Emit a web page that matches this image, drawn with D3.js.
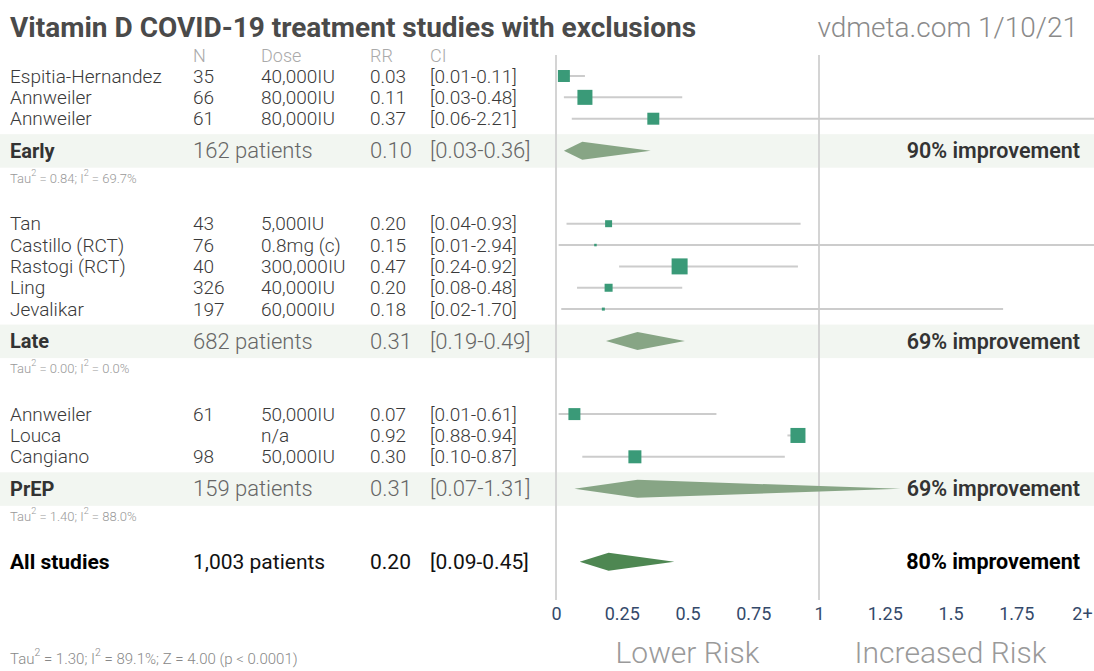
<!DOCTYPE html>
<html>
<head>
<meta charset="utf-8">
<script src="https://cdn.jsdelivr.net/npm/d3@7"></script>
<style>
  html, body { margin: 0; padding: 0; background: #fff; }
  svg { display: block; }
  text { font-family: Roboto, "Noto Sans", sans-serif; }
</style>
</head>
<body>
<svg id="chart" width="1094" height="671"></svg>
<script>
// ---- study data --------------------------------------------------------
const studyNames  = ["Espitia-Hernandez", "Annweiler", "Annweiler",
                     "Tan", "Castillo (RCT)", "Rastogi (RCT)", "Ling", "Jevalikar",
                     "Annweiler", "Louca", "Cangiano"];
const studyGroup  = ["Early", "Early", "Early",
                     "Late", "Late", "Late", "Late", "Late",
                     "PrEP", "PrEP", "PrEP"];
const studyN      = ["35", "66", "61", "43", "76", "40", "326", "197", "61", "", "98"];
const studyDose   = ["40,000IU", "80,000IU", "80,000IU",
                     "5,000IU", "0.8mg (c)", "300,000IU", "40,000IU", "60,000IU",
                     "50,000IU", "n/a", "50,000IU"];
const studyRR     = [0.03, 0.11, 0.37, 0.20, 0.15, 0.47, 0.20, 0.18, 0.07, 0.92, 0.30];
const studyLo     = [0.01, 0.03, 0.06, 0.04, 0.01, 0.24, 0.08, 0.02, 0.01, 0.88, 0.10];
const studyHi     = [0.11, 0.48, 2.21, 0.93, 2.94, 0.92, 0.48, 1.70, 0.61, 0.94, 0.87];
const studyWeight = [56, 88, 56, 19, 2.4, 100, 25, 3.5, 56, 88, 66];

// ---- pooled results per group -----------------------------------------
const groupNames    = ["Early", "Late", "PrEP"];
const groupPatients = ["162 patients", "682 patients", "159 patients"];
const groupRR       = [0.10, 0.31, 0.31];
const groupLo       = [0.03, 0.19, 0.07];
const groupHi       = [0.36, 0.49, 1.31];
const groupImprove  = ["90% improvement", "69% improvement", "69% improvement"];
const groupTau      = ["0.84", "0.00", "1.40"];
const groupI2       = ["69.7%", "0.0%", "88.0%"];

// ---- all studies --------------------------------------------------------
const allLabel    = "All studies";
const allPatients = "1,003 patients";
const allRR = 0.20, allLo = 0.09, allHi = 0.45;
const allImprove  = "80% improvement";
const allTau = "1.30", allI2 = "89.1%", allZ = "Z = 4.00 (p < 0.0001)";

// ---- axis ---------------------------------------------------------------
const tickValues = [0, 0.25, 0.5, 0.75, 1, 1.25, 1.5, 1.75, 2];
const tickLabels = ["0", "0.25", "0.5", "0.75", "1", "1.25", "1.5", "1.75", "2+"];
const headerLabels = ["N", "Dose", "RR", "CI"];

const fmt2 = d3.format(".2f");
const ciText = (lo, hi) => `[${fmt2(lo)}-${fmt2(hi)}]`;

const W = 1094, H = 671;
const svg = d3.select("#chart");

const x = d3.scaleLinear().domain([0, 2]).range([556, 1082]);
const xc = v => Math.min(x(v), W);           // clip long intervals at the edge
const side = d3.scaleSqrt().domain([0, 100]).range([0, 16]);

// column x positions for the table on the left
const col = { name: 10, n: 193, dose: 261, rr: 370, ci: 430 };

// ---- vertical layout ------------------------------------------------------
const rowStep = 21.35, groupGap = 32, tauGap = 27, afterTau = 46;
const layout = [];   // {type, index, y}
let y = 76;
groupNames.forEach((g, gi) => {
  const idx = studyGroup.map((s, i) => s === g ? i : -1).filter(i => i >= 0);
  idx.forEach((i, k) => { if (k > 0) y += rowStep; layout.push({ type: "study", i, y }); });
  y += groupGap;  layout.push({ type: "group", i: gi, y });
  y += tauGap;    layout.push({ type: "tau", i: gi, y });
  y += afterTau;
});
const allY = y;

// "Tau² = a; I² = b" with real superscripts
function tauText(sel, tau, i2, extra) {
  sel.append("tspan").text("Tau");
  sel.append("tspan").attr("font-size", "0.7em").attr("baseline-shift", "super").text("2");
  sel.append("tspan").text(` = ${tau}; I`);
  sel.append("tspan").attr("font-size", "0.7em").attr("baseline-shift", "super").text("2");
  sel.append("tspan").text(` = ${i2}` + (extra ? `; ${extra}` : ""));
}

// ---- title ----------------------------------------------------------------
svg.append("text").attr("x", 10).attr("y", 37)
  .attr("font-size", 28).attr("font-weight", 700).attr("fill", "#4a4a4a")
  .text("Vitamin D COVID-19 treatment studies with exclusions");
svg.append("text").attr("x", 1078).attr("y", 37).attr("text-anchor", "end")
  .attr("font-size", 28).attr("font-weight", 300).attr("fill", "#8a8a8a")
  .text("vdmeta.com 1/10/21");

// column headers
[col.n, col.dose, col.rr, col.ci].forEach((cx, k) => {
  svg.append("text").attr("x", cx).attr("y", 55).attr("dominant-baseline", "central")
    .attr("font-size", 18).attr("font-weight", 300).attr("fill", "#aaa")
    .text(headerLabels[k]);
});

// ---- group bands (drawn first so everything sits on top) ----------------
const gRows = layout.filter(d => d.type === "group");
svg.append("g").selectAll("rect").data(gRows).join("rect")
  .attr("x", 0).attr("width", W)
  .attr("y", d => d.y - 16.5).attr("height", 33.5)
  .attr("fill", "#f2f6f1");

// reference lines at 0 and 1
svg.append("g").selectAll("line").data([0, 1]).join("line")
  .attr("x1", d => x(d)).attr("x2", d => x(d))
  .attr("y1", 55).attr("y2", 600)
  .attr("stroke", "#d4d4d4").attr("stroke-width", 2);

// ---- individual studies -----------------------------------------------------
const sRows = layout.filter(d => d.type === "study");
const sg = svg.append("g");
sRows.forEach(d => {
  const i = d.i;
  const cells = [[col.name, studyNames[i]], [col.n, studyN[i]], [col.dose, studyDose[i]],
                 [col.rr, fmt2(studyRR[i])], [col.ci, ciText(studyLo[i], studyHi[i])]];
  cells.forEach(([cx, t]) => {
    sg.append("text").attr("x", cx).attr("y", d.y).attr("dominant-baseline", "central")
      .attr("font-size", 19).attr("font-weight", 300).attr("fill", "#3a3a3a").text(t);
  });
  sg.append("line")
    .attr("x1", x(studyLo[i])).attr("x2", xc(studyHi[i]))
    .attr("y1", d.y).attr("y2", d.y)
    .attr("stroke", "#cccccc").attr("stroke-width", 2);
  const s = Math.max(side(studyWeight[i]), 2.5);
  sg.append("rect")
    .attr("x", x(studyRR[i]) - s / 2).attr("y", d.y - s / 2)
    .attr("width", s).attr("height", s)
    .attr("fill", "#3a9a78");
});

// ---- pooled group rows ------------------------------------------------------
const diamond = (rr, lo, hi, cy, h) =>
  `M${x(lo)},${cy} L${x(rr)},${cy - h} L${xc(hi)},${cy} L${x(rr)},${cy + h} Z`;

const gg = svg.append("g");
gRows.forEach(d => {
  const i = d.i, cy = d.y;
  gg.append("text").attr("x", col.name).attr("y", cy).attr("dominant-baseline", "central")
    .attr("font-family", "'Open Sans', 'Noto Sans', sans-serif")
    .attr("font-size", 20).attr("font-weight", 700).attr("fill", "#333").text(groupNames[i]);
  [[col.n, groupPatients[i]], [col.rr, fmt2(groupRR[i])], [col.ci, ciText(groupLo[i], groupHi[i])]]
    .forEach(([cx, t]) => {
      gg.append("text").attr("x", cx).attr("y", cy).attr("dominant-baseline", "central")
        .attr("font-size", 22).attr("font-weight", 300).attr("fill", "#666").text(t);
    });
  gg.append("path").attr("d", diamond(groupRR[i], groupLo[i], groupHi[i], cy, 9))
    .attr("fill", "#87a585");
  gg.append("text").attr("x", 1080).attr("y", cy).attr("dominant-baseline", "central")
    .attr("text-anchor", "end").attr("font-family", "'Open Sans', 'Noto Sans', sans-serif")
    .attr("font-size", 21.5).attr("font-weight", 600).attr("fill", "#333")
    .text(groupImprove[i]);
});

// heterogeneity notes under each group
layout.filter(d => d.type === "tau").forEach(d => {
  svg.append("text").attr("x", col.name).attr("y", d.y).attr("dominant-baseline", "central")
    .attr("font-size", 13).attr("font-weight", 300).attr("fill", "#999")
    .call(tauText, groupTau[d.i], groupI2[d.i]);
});

// ---- all studies --------------------------------------------------------------
const ag = svg.append("g");
ag.append("text").attr("x", col.name).attr("y", allY).attr("dominant-baseline", "central")
  .attr("font-size", 21).attr("font-weight", 700).attr("fill", "#000").text(allLabel);
[[col.n, allPatients], [col.rr, fmt2(allRR)], [col.ci, ciText(allLo, allHi)]]
  .forEach(([cx, t]) => {
    ag.append("text").attr("x", cx).attr("y", allY).attr("dominant-baseline", "central")
      .attr("font-size", 21).attr("font-weight", 400).attr("fill", "#111").text(t);
  });
ag.append("path").attr("d", diamond(allRR, allLo, allHi, allY, 9)).attr("fill", "#4e8752");
ag.append("text").attr("x", 1080).attr("y", allY).attr("dominant-baseline", "central")
  .attr("text-anchor", "end").attr("font-size", 21.5).attr("font-weight", 700)
  .attr("fill", "#000").text(allImprove);

// ---- x axis ---------------------------------------------------------------------
const axis = d3.axisBottom(x).tickValues(tickValues)
  .tickFormat((v, k) => tickLabels[k]).tickSize(0).tickPadding(0);
const ax = svg.append("g").attr("transform", "translate(0,607)").call(axis);
ax.select(".domain").remove();
ax.selectAll("text")
  .attr("font-family", "'Noto Sans', 'DejaVu Sans', sans-serif")
  .attr("font-size", 18).attr("fill", "#34496a").attr("dy", "0.71em");

svg.append("text").attr("x", x(0.5)).attr("y", 663).attr("text-anchor", "middle")
  .attr("font-size", 30).attr("font-weight", 300).attr("fill", "#9a9a9a").text("Lower Risk");
svg.append("text").attr("x", x(1.5)).attr("y", 663).attr("text-anchor", "middle")
  .attr("font-size", 30).attr("font-weight", 300).attr("fill", "#9a9a9a").text("Increased Risk");

svg.append("text").attr("x", 10).attr("y", 659).attr("dominant-baseline", "central")
  .attr("font-size", 15).attr("font-weight", 300).attr("fill", "#888")
  .call(tauText, allTau, allI2, allZ);
</script>
</body>
</html>
